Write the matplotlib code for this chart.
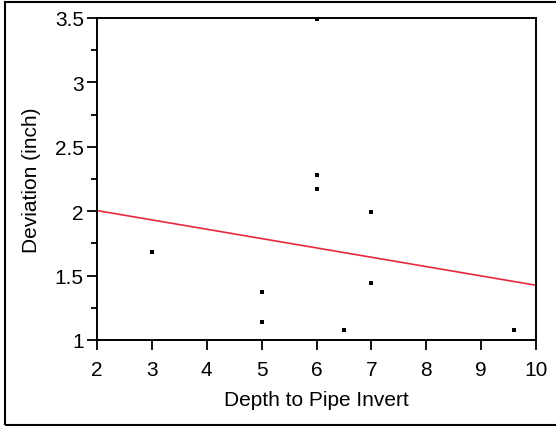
import matplotlib.pyplot as plt
from matplotlib.patches import Rectangle
from matplotlib.ticker import MultipleLocator

plt.rcParams['font.family'] = ['Liberation Sans', 'DejaVu Sans']

# measured deviations vs. depth
depth = [3, 5, 5, 6, 6, 6, 6.5, 7, 7, 9.6]
deviation = [1.68, 1.37, 1.14, 3.49, 2.28, 2.17, 1.08, 1.99, 1.44, 1.08]

# fitted trend line end points
fit_x = [2, 10]
fit_y = [2.005, 1.425]

fig = plt.figure(figsize=(5.56, 4.27), dpi=100)
ax = fig.add_axes([97 / 556, 1 - 341 / 427, (536 - 97) / 556, (341 - 19) / 427])

ax.plot(depth, deviation, 's', color='black', markersize=2.5, markeredgewidth=0, clip_on=False)
ax.plot(fit_x, fit_y, color='#e8293c', linewidth=1.2)

ax.set_xlim(2, 10)
ax.set_ylim(1, 3.5)
ax.xaxis.set_major_locator(MultipleLocator(1))
ax.yaxis.set_minor_locator(MultipleLocator(0.25))
ax.set_yticks([1, 1.5, 2, 2.5, 3, 3.5])
ax.set_yticklabels(['1', '1.5', '2', '2.5', '3', '3.5'])

for s in ax.spines.values():
    s.set_linewidth(1.4)
ax.tick_params(which='major', direction='out', length=7.5, width=1.3, labelsize=15, pad=2)
ax.tick_params(axis='x', which='major', pad=7)
ax.tick_params(which='minor', direction='out', length=4.5, width=1.3)
ax.tick_params(axis='x', which='minor', length=0)

ax.set_xlabel('Depth to Pipe Invert', fontsize=15, labelpad=8)
ax.set_ylabel('Deviation (inch)', fontsize=15, labelpad=10)

# outer frame around the chart
fig.patches.append(Rectangle((4.5 / 556, 1 - 425.5 / 427), 560 / 556, 423 / 427,
                             transform=fig.transFigure, fill=False,
                             edgecolor='black', linewidth=1.5))

fig.savefig('out.png', dpi=100)
